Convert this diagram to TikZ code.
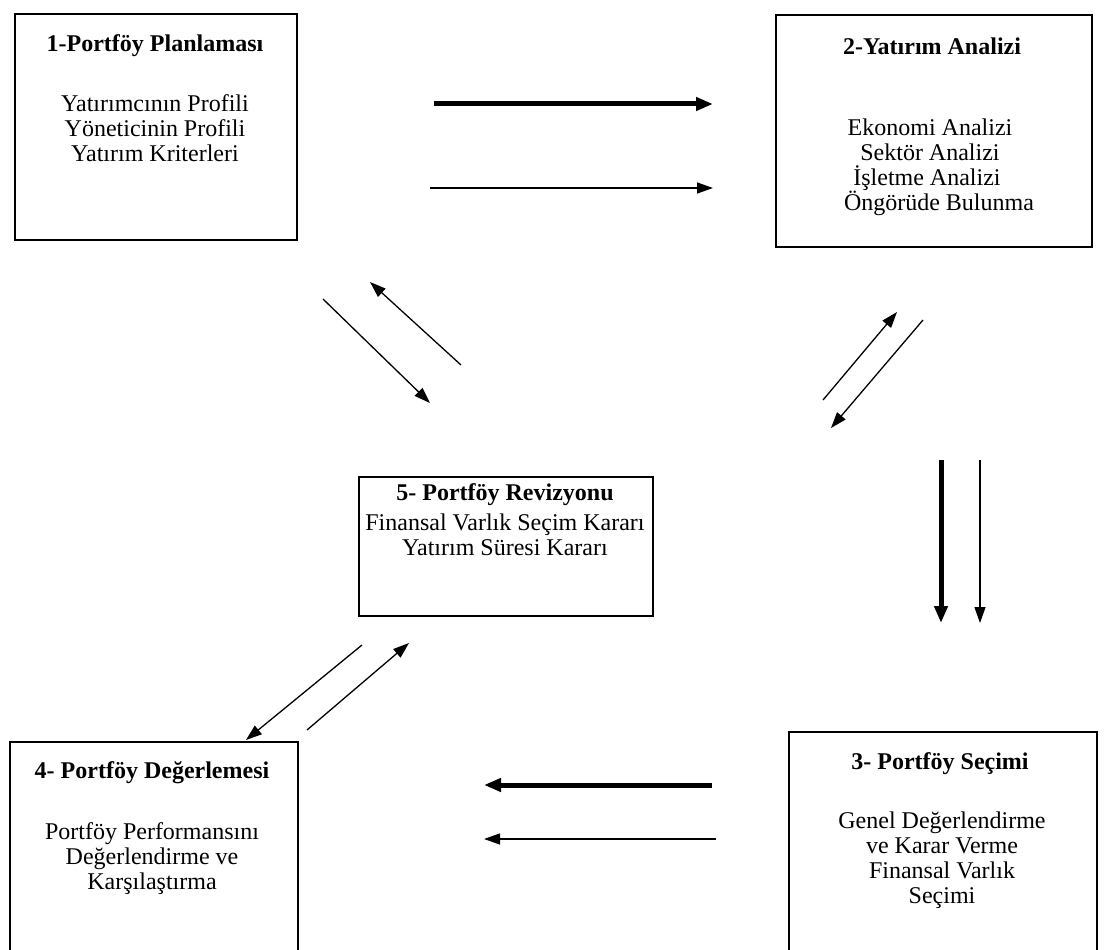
\documentclass[tikz,border=0pt]{standalone}
\usepackage{fontspec}
\setmainfont{Liberation Serif}
\usetikzlibrary{arrows.meta}
\begin{document}
\begin{tikzpicture}[x=1pt,y=-1pt,
  box/.style={draw, line width=2pt, inner sep=0pt, anchor=north west},
  txt/.style={font=\fontsize{24}{25}\selectfont, align=center, inner sep=0pt},
  ttl/.style={font=\fontsize{24}{25}\selectfont\bfseries, align=center, inner sep=0pt},
  thk/.style={line width=5pt, -{Triangle[length=17pt,width=13pt]}},
  thn/.style={line width=1.3pt, -{Triangle[length=16pt,width=11pt]}}]
\useasboundingbox (0,0) rectangle (1104,950);
\clip (0,0) rectangle (1104,950);
% boxes
\node[box, minimum width=282pt, minimum height=226pt] (b1) at (14,13) {};
\node[box, minimum width=316pt, minimum height=232pt] (b2) at (775,14) {};
\node[box, minimum width=294pt, minimum height=139pt] (b5) at (358,476) {};
\node[box, minimum width=288pt, minimum height=240pt] (b4) at (9,741) {};
\node[box, minimum width=308pt, minimum height=240pt] (b3) at (788,731) {};
% texts
\node[ttl] (t1) at (155,46) {1-Portföy Planlaması};
\node[txt] (d1) at (155,128) {Yatırımcının Profili\\Yöneticinin Profili\\Yatırım Kriterleri};
\node[ttl] (t2) at (932,46) {2-Yatırım Analizi};
\node[txt] (d2) at (930,167) {Ekonomi Analizi\\Sektör Analizi\\\hspace*{-6pt}İşletme Analizi\\\hspace*{18pt}Öngörüde Bulunma};
\node[ttl] (t5) at (505,495) {5- Portföy Revizyonu};
\node[txt] (d5) at (505,535) {Finansal Varlık Seçim Kararı\\Yatırım Süresi Kararı};
\node[ttl] (t4) at (152,773) {4- Portföy Değerlemesi};
\node[txt] (d4) at (152,859) {Portföy Performansını\\Değerlendirme ve\\Karşılaştırma};
\node[ttl] (t3) at (940,764) {3- Portföy Seçimi};
\node[txt] (d3) at (942,860) {Genel Değerlendirme\\ve Karar Verme\\Finansal Varlık\\Seçimi};
% arrow end points
\coordinate (a1s) at (434,104); \coordinate (a1e) at (713,104);
\coordinate (a2s) at (430,188); \coordinate (a2e) at (713,188);
\coordinate (a3s) at (323,299); \coordinate (a3e) at (430,403);
\coordinate (a4s) at (461,365); \coordinate (a4e) at (370,282);
\coordinate (a5s) at (823,400); \coordinate (a5e) at (897,312);
\coordinate (a6s) at (923,320); \coordinate (a6e) at (831,428);
\coordinate (a7s) at (941,460); \coordinate (a7e) at (941,623);
\coordinate (a8s) at (980,460); \coordinate (a8e) at (980,623);
\coordinate (a9s) at (362,645); \coordinate (a9e) at (246,740);
\coordinate (a10s) at (307,730); \coordinate (a10e) at (409,643);
\coordinate (a11s) at (712,785); \coordinate (a11e) at (484,785);
\coordinate (a12s) at (716,839); \coordinate (a12e) at (484,839);
% arrows
\draw[thk] (a1s) -- (a1e);
\draw[thn] (a2s) -- (a2e);
\draw[thn] (a3s) -- (a3e);
\draw[thn] (a4s) -- (a4e);
\draw[thn] (a5s) -- (a5e);
\draw[thn] (a6s) -- (a6e);
\draw[thk] (a7s) -- (a7e);
\draw[thn] (a8s) -- (a8e);
\draw[thn] (a9s) -- (a9e);
\draw[thn] (a10s) -- (a10e);
\draw[thk] (a11s) -- (a11e);
\draw[thn] (a12s) -- (a12e);
\end{tikzpicture}
\end{document}
